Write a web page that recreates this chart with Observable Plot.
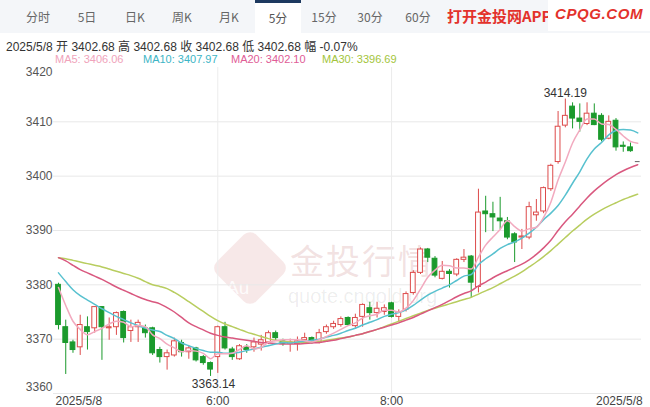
<!DOCTYPE html>
<html><head><meta charset="utf-8">
<script src="https://cdn.jsdelivr.net/npm/d3@7"></script>
<script src="https://cdn.jsdelivr.net/npm/@observablehq/plot@0.6"></script>
<style>
body{margin:0;background:#fff;font-family:"Liberation Sans",Arial,"Noto Sans CJK SC",sans-serif;}
#wrap{position:relative;width:650px;height:407px;overflow:hidden;}
#header{position:relative;height:64px;z-index:2;}
#tabs{position:absolute;left:0;top:0;width:650px;height:33px;background:#f4f6f9;}
.tab{position:absolute;top:0;width:46px;height:33px;line-height:34px;text-align:center;font-size:12px;color:#666;font-family:"Noto Sans CJK SC","Liberation Sans",sans-serif;}
.tab.active{background:#fff;border-top:3px solid #1e3a60;height:30px;line-height:30px;color:#555;}
#app{position:absolute;left:447px;top:6px;font-size:15px;font-weight:bold;color:#e3322c;font-family:"Noto Sans CJK SC",sans-serif;line-height:1.3;}
#cpqg{position:absolute;left:548px;top:0;width:102px;height:31px;background:#fff;}
#cpqg span{position:absolute;left:7px;top:5px;font-size:15px;font-weight:bold;font-style:italic;color:#e3322c;font-family:"Liberation Sans",sans-serif;letter-spacing:0.6px;line-height:1.2;}
#info{position:absolute;left:6px;top:37px;font-size:12px;color:#333;white-space:nowrap;font-family:"Liberation Sans","Noto Sans CJK SC",sans-serif;}
#legend{position:absolute;left:55px;top:53px;font-size:11px;white-space:nowrap;}
#legend span{position:absolute;top:0;}
#chart{position:relative;z-index:1;}
.wm{position:absolute;z-index:0;line-height:1;}
</style></head>
<body>
<div id="wrap">
  <div class="wm" style="left:222px;top:240px;width:56px;height:56px;transform:rotate(45deg);border-radius:9px;background:rgba(228,178,178,0.30);"></div>
  <div class="wm" style="left:226px;top:278px;font-size:19px;color:rgba(255,255,255,0.85);">Au</div>
  <div class="wm" style="left:290px;top:243px;font-size:34px;letter-spacing:2px;color:rgba(215,165,165,0.33);font-family:'Noto Sans CJK SC',sans-serif;">金投行情</div>
  <div class="wm" style="left:288px;top:286px;font-size:20px;color:rgba(0,0,0,0.08);">quote.cngold.org</div>
  <div id="header">
    <div id="tabs"></div>
    <div id="app">打开金投网APP</div>
    <div id="cpqg"><span>CPQG.COM</span></div>
    <div id="info"></div>
    <div id="legend"></div>
  </div>
  <div id="chart"></div>
</div>
<script>
// ---- data ----
const tabLabels = ["分时","5日","日K","周K","月K","5分","15分","30分","60分"];
const activeTab = "5分";
const infoText = "2025/5/8  开 3402.68  高 3402.68  收 3402.68  低 3402.68  幅 -0.07%";
const maNames = ["MA5","MA10","MA20","MA30"];
const maLast = ["3406.06","3407.97","3402.10","3396.69"];

const open = [3380.0,3372.2,3369.4,3368.5,3372.2,3372.0,3375.9,3372.0,3372.2,3375.0,
  3371.5,3372.2,3372.0,3372.0,3368.0,3366.7,3367.0,3369.3,3367.6,3368.3,
  3366.7,3365.6,3366.7,3372.2,3368.1,3366.3,3368.5,3368.5,3369.0,3369.4,
  3371.1,3369.6,3369.1,3369.1,3369.8,3370.2,3369.4,3371.3,3372.2,3372.6,
  3373.9,3372.4,3374.1,3375.7,3374.8,3375.0,3376.6,3374.1,3375.4,3378.5,
  3382.2,3386.5,3384.8,3381.1,3382.4,3381.9,3384.6,3385.2,3379.6,3393.5,
  3393.0,3392.2,3391.7,3389.3,3388.7,3388.7,3392.8,3393.5,3397.6,3402.6,
  3409.3,3412.8,3410.6,3409.6,3411.5,3411.1,3406.9,3410.2,3405.6,3405.3,3402.68];
const high = [3380.3,3373.5,3369.8,3374.4,3374.1,3376.0,3376.0,3373.9,3375.0,3375.2,
  3373.5,3373.5,3372.6,3372.2,3368.5,3368.0,3370.2,3369.8,3368.7,3368.5,
  3367.0,3365.8,3372.4,3373.1,3368.5,3369.0,3369.0,3370.2,3370.7,3371.5,
  3371.5,3370.0,3370.0,3370.4,3371.1,3370.4,3371.8,3372.6,3373.3,3374.1,
  3374.1,3374.6,3376.5,3376.8,3376.8,3376.3,3376.8,3375.4,3378.7,3382.6,
  3386.8,3386.7,3385.2,3384.3,3382.8,3384.8,3386.5,3385.4,3397.6,3396.3,
  3395.2,3396.1,3392.4,3389.6,3390.2,3395.2,3395.7,3398.0,3402.2,3411.9,
  3414.19,3413.5,3413.3,3413.5,3413.3,3411.5,3411.1,3410.6,3406.3,3406.1,3402.68];
const low = [3371.7,3363.5,3367.4,3367.0,3368.0,3371.1,3366.1,3369.8,3370.7,3369.3,
  3369.4,3369.4,3370.2,3367.0,3365.6,3364.3,3366.7,3366.7,3366.3,3365.8,
  3365.2,3363.14,3363.7,3368.0,3366.1,3366.1,3367.4,3367.6,3367.8,3369.0,
  3369.6,3368.7,3367.6,3367.8,3369.6,3369.1,3369.1,3370.9,3371.8,3372.2,
  3372.4,3372.0,3372.2,3373.5,3373.9,3374.4,3373.9,3373.1,3375.0,3378.1,
  3381.9,3384.1,3381.3,3380.9,3379.4,3381.5,3384.1,3377.6,3378.5,3389.6,
  3389.8,3390.2,3388.3,3384.1,3386.5,3388.3,3391.7,3393.1,3397.2,3402.2,
  3408.9,3408.7,3408.1,3409.3,3409.3,3406.3,3406.7,3404.6,3404.4,3404.4,3402.68];
const close = [3372.6,3369.3,3368.0,3372.6,3371.3,3375.9,3372.2,3372.2,3374.8,3370.2,
  3372.2,3373.0,3371.1,3367.4,3366.7,3367.4,3369.6,3367.6,3368.3,3366.1,
  3365.6,3364.4,3372.2,3368.3,3366.7,3368.7,3368.0,3369.4,3369.8,3371.1,
  3370.2,3369.1,3369.4,3369.6,3370.2,3369.4,3371.1,3372.2,3372.8,3373.7,
  3372.6,3373.9,3376.3,3374.8,3375.6,3375.7,3374.1,3375.0,3378.3,3382.2,
  3386.5,3385.0,3381.7,3382.4,3382.0,3384.6,3385.0,3380.4,3393.3,3393.0,
  3392.4,3391.7,3388.7,3387.8,3388.9,3394.3,3393.3,3397.8,3401.9,3409.1,
  3411.1,3410.6,3410.0,3411.5,3409.4,3406.7,3410.0,3405.3,3405.4,3404.6,3402.68];
const ma5 = [3379.5,3376.2,3373.3,3371.8,3370.8,3371.4,3372.0,3372.8,3373.3,3373.1,
  3372.3,3372.5,3372.3,3370.8,3370.1,3369.1,3368.4,3367.7,3367.9,3367.8,
  3367.4,3366.4,3367.3,3367.3,3367.4,3368.1,3368.8,3368.2,3368.5,3369.4,
  3369.7,3369.9,3369.9,3369.9,3369.7,3369.5,3369.9,3370.5,3371.1,3371.8,
  3372.5,3373.0,3373.9,3374.3,3374.6,3375.3,3375.3,3375.0,3375.7,3377.1,
  3379.2,3381.4,3382.7,3383.6,3383.5,3383.1,3383.1,3382.9,3385.1,3387.3,
  3388.8,3390.2,3391.8,3390.7,3389.9,3390.3,3390.6,3392.4,3395.2,3399.3,
  3402.6,3406.1,3408.5,3410.5,3410.5,3409.6,3409.5,3408.6,3407.4,3406.4,3406.06];
const ma10 = [3382.2,3380.6,3379.1,3378.0,3377.2,3376.4,3375.6,3374.9,3374.2,3373.6,
  3373.0,3372.5,3372.0,3371.7,3371.4,3370.7,3370.1,3369.3,3368.8,3368.3,
  3367.9,3367.6,3367.6,3367.4,3367.4,3367.6,3367.9,3368.2,3368.5,3368.8,
  3369.1,3369.4,3369.3,3369.5,3369.6,3369.8,3370.0,3370.4,3370.7,3371.1,
  3371.6,3372.0,3372.6,3373.1,3373.6,3374.2,3374.6,3374.9,3375.4,3376.2,
  3377.2,3378.1,3378.8,3379.4,3380.0,3380.8,3381.6,3381.9,3383.7,3384.8,
  3385.7,3386.7,3387.4,3387.9,3388.6,3389.5,3390.6,3392.0,3393.2,3394.6,
  3396.5,3398.7,3400.8,3403.2,3405.0,3406.2,3407.6,3408.4,3408.6,3408.5,3407.97];
const ma20 = [3385.0,3384.4,3383.6,3382.8,3382.2,3381.6,3381.0,3380.3,3379.6,3379.0,
  3378.4,3377.8,3377.3,3376.9,3376.5,3375.8,3375.0,3374.0,3373.0,3372.3,
  3371.7,3371.1,3370.7,3370.4,3370.2,3370.0,3369.8,3369.6,3369.4,3369.3,
  3369.2,3369.1,3369.1,3369.1,3369.2,3369.3,3369.4,3369.6,3369.8,3370.1,
  3370.4,3370.7,3371.0,3371.4,3371.8,3372.2,3372.6,3373.0,3373.5,3374.0,
  3374.6,3375.2,3375.8,3376.4,3377.1,3377.8,3378.4,3378.9,3379.8,3380.5,
  3381.3,3382.0,3382.6,3383.2,3383.8,3384.6,3385.6,3386.8,3388.2,3390.0,
  3391.6,3393.0,3394.5,3396.0,3397.3,3398.4,3399.4,3400.3,3401.0,3401.6,3402.10];
const ma30 = [3385.0,3384.8,3384.5,3384.2,3383.9,3383.6,3383.3,3382.9,3382.5,3382.1,
  3381.7,3381.2,3380.6,3380.0,3379.7,3379.3,3378.6,3377.8,3376.9,3376.0,
  3375.1,3374.2,3373.4,3372.8,3372.3,3371.8,3371.3,3370.9,3370.5,3370.1,
  3369.8,3369.6,3369.5,3369.4,3369.4,3369.5,3369.6,3369.8,3370.0,3370.2,
  3370.4,3370.7,3371.0,3371.4,3371.8,3372.3,3372.8,3373.3,3373.8,3374.3,
  3374.8,3375.3,3375.7,3376.1,3376.5,3376.9,3377.3,3377.7,3378.3,3378.9,
  3379.5,3380.2,3380.9,3381.6,3382.4,3383.3,3384.2,3385.2,3386.3,3387.5,
  3388.7,3389.9,3391.0,3392.1,3393.0,3393.8,3394.5,3395.1,3395.7,3396.2,3396.69];
const xTickIndex = [1, 23, 47, 81];
const xTickLabels = ["2025/5/8", "6:00", "8:00", "2025/5/8"];
const yTicks = [3360, 3370, 3380, 3390, 3400, 3410, 3420];

// ---- colors ----
const UP = "#dd4b4b", DOWN = "#1b9a2c", FLAT = "#666";
const maColors = ["#f2aabf", "#58c1cf", "#d9587f", "#b8cd5f"];
const maLegendColors = ["#f0a3bb", "#3db5c6", "#e05c96", "#a3c53b"];

// ---- header ----
const tabCenters = [38, 87, 135, 182, 229, 278, 324, 370, 418];
const tabs = document.getElementById("tabs");
tabLabels.forEach((t, k) => {
  const s = document.createElement("div");
  s.className = "tab" + (t === activeTab ? " active" : "");
  s.style.left = (tabCenters[k] - 23) + "px";
  s.textContent = t;
  tabs.appendChild(s);
});
document.getElementById("info").textContent = infoText;
const legendX = [0, 88, 176, 267];
const leg = document.getElementById("legend");
maNames.forEach((n, k) => {
  const s = document.createElement("span");
  s.style.left = legendX[k] + "px";
  s.style.color = maLegendColors[k];
  s.textContent = n + ": " + maLast[k];
  leg.appendChild(s);
});

// ---- chart ----
const candles = open.map((o, k) => ({i: k + 1, o, h: high[k], l: low[k], c: close[k]}));
const ups = candles.filter(d => d.c > d.o);
const downs = candles.filter(d => d.c < d.o);
const flats = candles.filter(d => d.c === d.o);
const maRows = open.map((_, k) => ({i: k + 1, ma5: ma5[k], ma10: ma10[k], ma20: ma20[k], ma30: ma30[k]}));
const hiC = candles.reduce((a, b) => (b.h > a.h ? b : a));
const loC = candles.reduce((a, b) => (b.l < a.l ? b : a));
const ticks = xTickIndex.map((i, k) => ({i, label: xTickLabels[k]}));
const hw = 0.33;
const fmt = d => String(d);
const yAxisOpts = {anchor: "left", tickSize: 0, tickPadding: 1, fontSize: 12, fill: "#555", tickFormat: fmt};

const chart = Plot.plot({
  width: 650, height: 343,
  marginLeft: 53, marginRight: 9, marginTop: 3, marginBottom: 14,
  x: {domain: [0.31, 81.52], axis: null},
  y: {domain: [3360, 3420], axis: null},
  style: {background: "transparent", color: "#555", fontFamily: "'Liberation Sans', Arial, sans-serif", overflow: "visible"},
  marks: [
    Plot.gridY(yTicks.slice(0, 6), {stroke: "#e8e8e8", strokeOpacity: 1}),
    Plot.ruleX(xTickIndex.slice(1, 3), {stroke: "#ececec", strokeOpacity: 1}),
    Plot.axisY(yTicks.slice(1, 6), yAxisOpts),
    Plot.axisY(yTicks.slice(6), {...yAxisOpts, dy: 5}),
    Plot.axisY(yTicks.slice(0, 1), {...yAxisOpts, dy: -6}),
    Plot.ruleX(ups, {x: "i", y1: "l", y2: "h", stroke: UP}),
    Plot.ruleX(downs, {x: "i", y1: "l", y2: "h", stroke: DOWN}),
    Plot.rect(ups, {x1: d => d.i - hw, x2: d => d.i + hw, y1: "o", y2: "c", fill: "white", stroke: UP, strokeWidth: 1}),
    Plot.rect(downs, {x1: d => d.i - hw, x2: d => d.i + hw, y1: "o", y2: "c", fill: DOWN, stroke: DOWN, strokeWidth: 1}),
    Plot.ruleY(flats, {y: "c", x1: d => d.i - hw, x2: d => d.i + hw, stroke: FLAT}),
    Plot.line(maRows, {x: "i", y: "ma30", stroke: maColors[3], strokeWidth: 1.5, curve: "monotone-x"}),
    Plot.line(maRows, {x: "i", y: "ma20", stroke: maColors[2], strokeWidth: 1.5, curve: "monotone-x"}),
    Plot.line(maRows, {x: "i", y: "ma10", stroke: maColors[1], strokeWidth: 1.5, curve: "monotone-x"}),
    Plot.line(maRows, {x: "i", y: "ma5", stroke: maColors[0], strokeWidth: 1.5, curve: "monotone-x"}),
    Plot.text([hiC], {x: "i", y: "h", text: d => d.h.toFixed(2), lineAnchor: "bottom", dy: -2, fontSize: 12, fill: "#333"}),
    Plot.text([loC], {x: "i", y: "l", text: d => d.l.toFixed(2), lineAnchor: "top", dy: 3, dx: 3, fontSize: 12, fill: "#333"}),
    Plot.text(ticks.slice(0, 1), {x: "i", text: "label", frameAnchor: "bottom", lineAnchor: "top", textAnchor: "start", dx: -3, dy: 3, fontSize: 12, fill: "#444"}),
    Plot.text(ticks.slice(1, 3), {x: "i", text: "label", frameAnchor: "bottom", lineAnchor: "top", dy: 3, fontSize: 12, fill: "#444"}),
    Plot.text(ticks.slice(3), {x: "i", text: "label", frameAnchor: "bottom", lineAnchor: "top", textAnchor: "end", dx: 5, dy: 3, fontSize: 12, fill: "#444"})
  ]
});
document.getElementById("chart").appendChild(chart);
</script>
</body></html>
